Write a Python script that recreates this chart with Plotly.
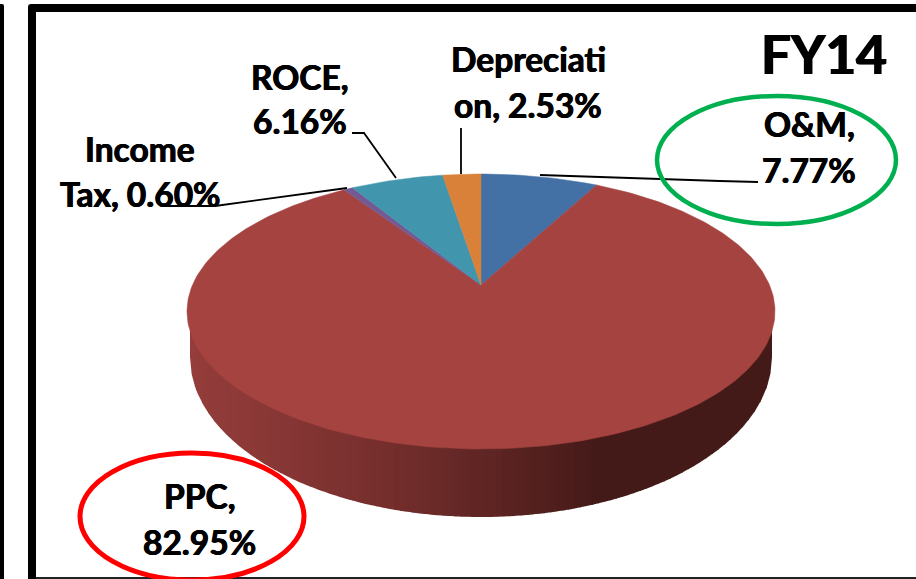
import math
import plotly.graph_objects as go

# ---- data ----
categories = ["O&M", "PPC", "Income Tax", "ROCE", "Depreciation"]
shares = [7.77, 82.95, 0.60, 6.16, 2.53]
colors = ["#4471a5", "#a54341", "#745a92", "#4195ad", "#d98039"]
chart_title = "FY14"

# label lines: the wrapped text of each data label, with its centre position
label_lines = {
    "O&M": (["O&M,", "{v}"], [(809, 124), (809, 170)]),
    "PPC": (["PPC,", "{v}"], [(199, 496), (199, 542)]),
    "Income Tax": (["Income", "Tax, {v}"], [(140, 149), (140, 194)]),
    "ROCE": (["ROCE,", "{v}"], [(300, 77), (300, 121)]),
    "Depreciation": (["Depreciati", "on, {v}"], [(528, 59), (528, 105)]),
}

# leader lines, screen positions
leaders = [
    [(758, 182), (720, 181), (540, 175)],
    [(165, 206), (215, 206), (347, 188)],
    [(352, 133), (364, 133), (396, 178)],
    [(461, 128), (461, 174)],
]

# ---- projection of the tilted pie ----
CX = 481
APEX_Y = 285
RIM_FAR = 174
RIM_NEAR = 449
k = ((RIM_FAR + RIM_NEAR) - 2 * APEX_Y) / (RIM_NEAR - RIM_FAR)
B = RIM_FAR * (1 + k) - APEX_Y
A = 294 * math.sqrt(1 - k * k)


def project(turn):
    """Circle position (fraction of a turn, clockwise from 12 o'clock) to screen."""
    t = 2 * math.pi * turn
    u, v = math.sin(t), math.cos(t)
    w = 1 + k * v
    return CX + A * u / w, (APEX_Y + B * v) / w


fig = go.Figure()

# ---- side wall: vertical strips between the rim ellipses ----
BOTTOM_RX, BOTTOM_RY, BOTTOM_CY = 291, 160, 357
TOP_CY = 311
side_stops = [(190, (0x94, 0x3d, 0x3b)), (300, (0x84, 0x35, 0x33)), (400, (0x72, 0x2d, 0x2b)),
              (480, (0x60, 0x26, 0x24)), (560, (0x4e, 0x1e, 0x1c)), (600, (0x43, 0x1a, 0x18)),
              (772, (0x43, 0x1a, 0x18))]


def side_colour(x):
    for (x0, c0), (x1, c1) in zip(side_stops, side_stops[1:]):
        if x <= x1:
            f = max(0, (x - x0) / (x1 - x0))
            return "rgb(%d,%d,%d)" % tuple(round(a + (b - a) * f) for a, b in zip(c0, c1))
    return "rgb(67,26,24)"


STRIP = 6
left = CX - BOTTOM_RX
n_strips = int(2 * BOTTOM_RX / STRIP)
for i in range(n_strips):
    x0 = left + i * STRIP
    x1 = min(x0 + STRIP + 0.6, CX + BOTTOM_RX)
    xs, ys = [], []
    for j in range(5):
        x = x0 + (x1 - x0) * j / 4
        d = max(0, 1 - ((x - CX) / BOTTOM_RX) ** 2)
        xs.append(x)
        ys.append(BOTTOM_CY + BOTTOM_RY * math.sqrt(d))
    fig.add_trace(go.Scatter(
        x=[x0] + xs + [x1], y=[TOP_CY] + ys + [TOP_CY], mode="lines", fill="toself",
        fillcolor=side_colour((x0 + x1) / 2), line=dict(width=0),
        hoverinfo="skip", showlegend=False))

# ---- top face: wedges ----
total = sum(shares)
start = 0.0
for name, share, colour in zip(categories, shares, colors):
    frac = share / total
    steps = max(4, int(frac * 360))
    pts = [project(start + frac * j / steps) for j in range(steps + 1)]
    xs = [CX] + [p[0] for p in pts] + [CX]
    ys = [APEX_Y] + [p[1] for p in pts] + [APEX_Y]
    fig.add_trace(go.Scatter(
        x=xs, y=ys, mode="lines", fill="toself", fillcolor=colour,
        line=dict(width=0.5, color=colour), name=name,
        text=f"{name}: {share:.2f}%", hoverinfo="text", showlegend=False))
    start += frac

# ---- leader lines ----
for pts in leaders:
    fig.add_trace(go.Scatter(
        x=[p[0] for p in pts], y=[p[1] for p in pts], mode="lines",
        line=dict(color="#000000", width=1.8), hoverinfo="skip", showlegend=False))

# ---- labels ----
FONT = "Lato, Carlito, Calibri, sans-serif"
HEAVY = "0.5px 0 0 #000, -0.5px 0 0 #000"
annotations = []
for name, share in zip(categories, shares):
    lines, spots = label_lines[name]
    for line, (x, y) in zip(lines, spots):
        annotations.append(dict(
            x=x, y=y, xref="x", yref="y", showarrow=False, xanchor="center", yanchor="middle",
            text="<b>" + line.format(v=f"{share:.2f}%") + "</b>",
            font=dict(family=FONT, size=33.5, color="#000000", shadow=HEAVY)))
annotations.append(dict(
    x=824, y=53, xref="x", yref="y", showarrow=False, xanchor="center", yanchor="middle",
    text=f"<b>{chart_title}</b>",
    font=dict(family=FONT, size=53, color="#000000", shadow="0.8px 0 0 #000, -0.8px 0 0 #000")))

# ---- frame and highlight rings ----
shapes = [
    dict(type="path", path="M 0 4 L 2 4 Q 4 4 4 6 L 4 579 L 0 579 Z", fillcolor="#000000",
         line=dict(width=0), layer="above"),
    dict(type="path", path="M 28 579 L 28 7 Q 28 4 31 4 L 916 4 L 916 12 L 36 12 L 36 579 Z",
         fillcolor="#000000", line=dict(width=0), layer="above"),
    dict(type="line", x0=36, x1=916, y0=578, y1=578, line=dict(color="#222222", width=2), layer="above"),
    dict(type="circle", x0=657, x1=896, y0=96, y1=224, line=dict(color="#00b050", width=4.5), layer="above"),
    dict(type="circle", x0=80, x1=304, y0=453, y1=580, line=dict(color="#ff0000", width=5), layer="above"),
]

fig.update_layout(
    width=916, height=579, margin=dict(l=0, r=0, t=0, b=0),
    paper_bgcolor="#ffffff", plot_bgcolor="#ffffff",
    xaxis=dict(range=[0, 916], visible=False, fixedrange=True, domain=[0, 1]),
    yaxis=dict(range=[579, 0], visible=False, fixedrange=True, domain=[0, 1]),
    showlegend=False, annotations=annotations, shapes=shapes,
)

fig.write_html("out.html", config=dict(displayModeBar=False),
               post_script="document.body.style.margin='0';document.body.style.overflow='hidden';")
